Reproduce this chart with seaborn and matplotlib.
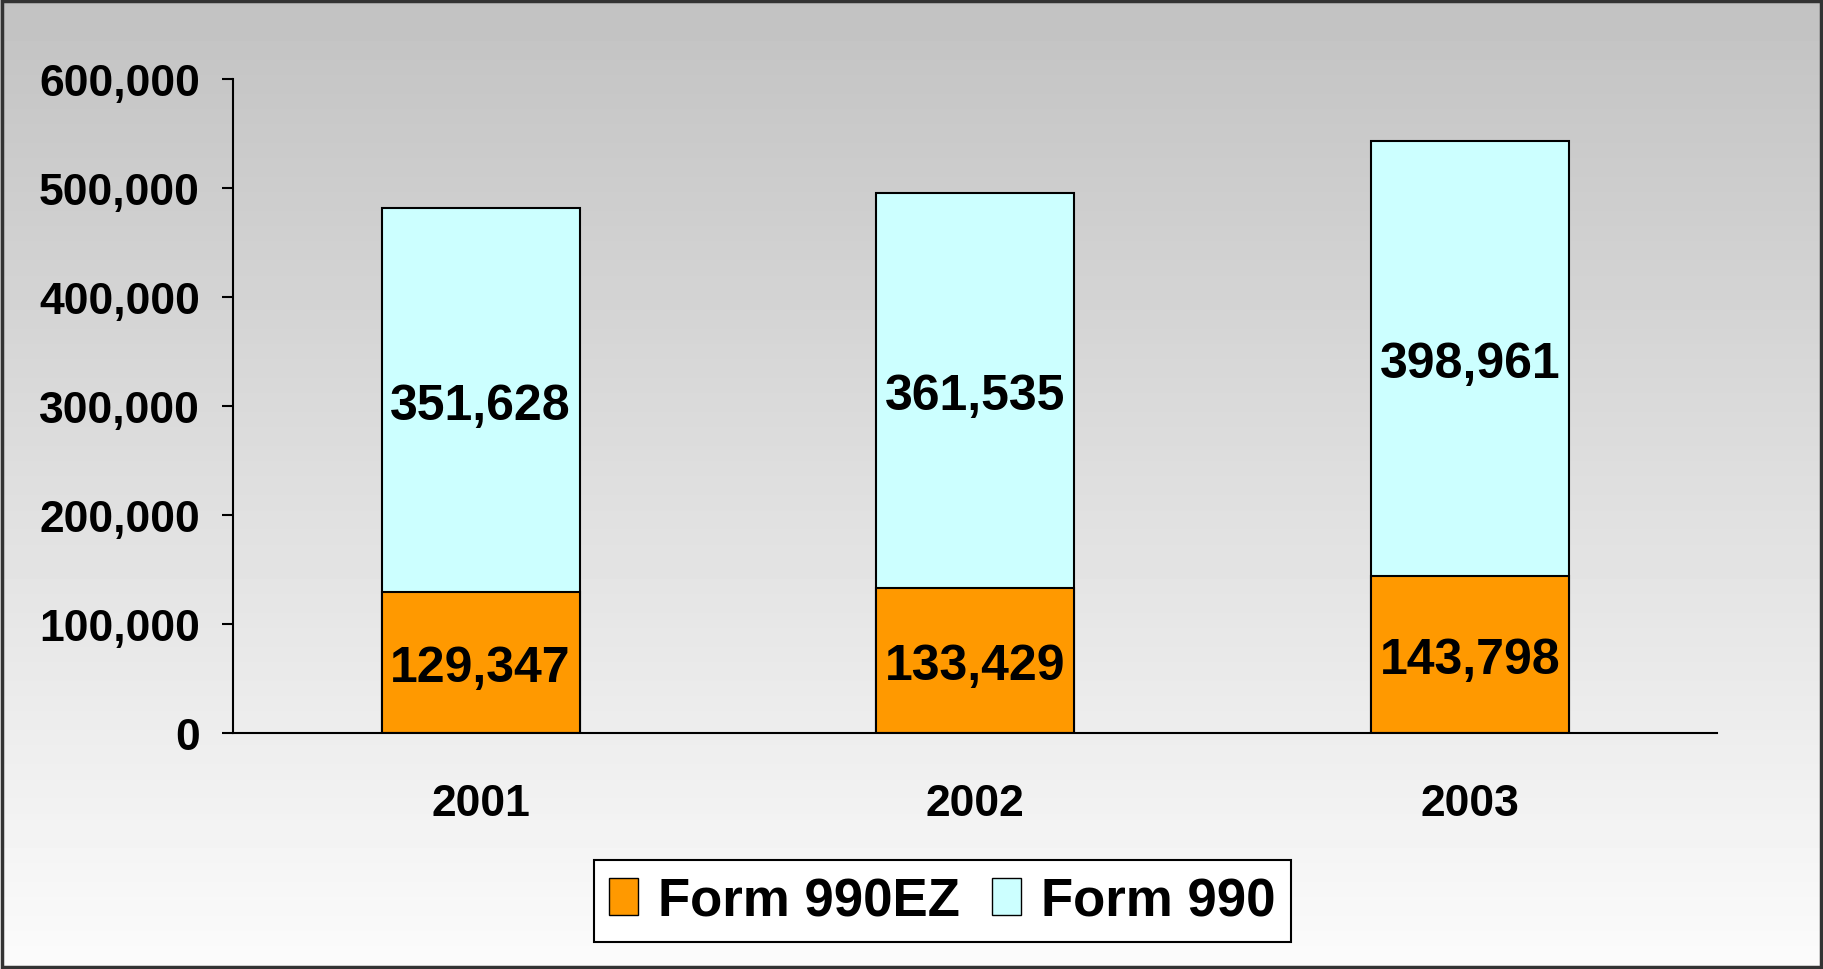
import numpy as np
import pandas as pd
import seaborn as sns
import matplotlib.pyplot as plt
from matplotlib.patches import Patch, Rectangle
from matplotlib.ticker import FuncFormatter

years = ["2001", "2002", "2003"]
form_990ez = [129347, 133429, 143798]
form_990 = [351628, 361535, 398961]
y_ticks = [0, 100000, 200000, 300000, 400000, 500000, 600000]

ORANGE = "#FF9900"
CYAN = "#CCFFFF"


def make_chart():
    df = pd.DataFrame({"year": years, "ez": form_990ez, "full": form_990})
    df["total"] = df["ez"] + df["full"]

    sns.set_style("white")
    plt.rcParams["font.family"] = ["Liberation Sans", "DejaVu Sans"]
    plt.rcParams["font.weight"] = "bold"
    plt.rcParams["text.color"] = "black"

    fig = plt.figure(figsize=(18.23, 9.70), dpi=100)

    # gray-to-white background gradient
    bg = fig.add_axes([0, 0, 1, 1], zorder=-10)
    grad = np.linspace(0.76, 0.985, 256).reshape(-1, 1)
    bg.imshow(grad, cmap="gray", vmin=0, vmax=1, aspect="auto",
              extent=[0, 1, 0, 1], origin="upper")
    bg.set_axis_off()
    fig.patches.append(Rectangle((0.001, 0.002), 0.998, 0.996, transform=fig.transFigure,
                                 fill=False, edgecolor="#333333", linewidth=2.5))

    ax = fig.add_axes([0.128, 0.243, 0.814, 0.675])
    ax.set_facecolor("none")

    # stacked bars: draw totals (Form 990 on top) then Form 990EZ over them
    sns.barplot(data=df, x="year", y="total", color=CYAN, width=0.4,
                edgecolor="black", linewidth=1.5, saturation=1, ax=ax)
    sns.barplot(data=df, x="year", y="ez", color=ORANGE, width=0.4,
                edgecolor="black", linewidth=1.5, saturation=1, ax=ax)

    for i, row in df.iterrows():
        ax.annotate(f"{row['ez']:,}", (i, row["ez"] / 2), xytext=(0, -4),
                    textcoords="offset points", ha="center", va="center",
                    fontsize=36, fontweight="bold", color="black")
        ax.annotate(f"{row['full']:,}", (i, row["ez"] + row["full"] / 2), xytext=(0, -4),
                    textcoords="offset points", ha="center", va="center",
                    fontsize=36, fontweight="bold", color="black")

    ax.set_ylim(0, 600000)
    ax.set_xlim(-0.5, 2.5)
    ax.set_yticks(y_ticks)
    ax.yaxis.set_major_formatter(FuncFormatter(lambda v, p: f"{int(v):,}"))
    ax.set_xticks([-0.5, 0.5, 1.5, 2.5], minor=True)
    ax.tick_params(axis="x", which="major", length=0, pad=36, labelsize=32,
                   labelcolor="black")
    ax.tick_params(axis="x", which="minor", length=8, width=1.5, direction="out", color="black")
    ax.tick_params(axis="y", length=8, width=1.5, direction="out", color="black",
                   pad=16, labelsize=32, left=True, labelcolor="black")
    for lbl in ax.get_xticklabels() + ax.get_yticklabels():
        lbl.set_fontweight("bold")
    ax.set_xlabel("")
    ax.set_ylabel("")

    for side in ["top", "right"]:
        ax.spines[side].set_visible(False)
    for side in ["left", "bottom"]:
        ax.spines[side].set_color("black")
        ax.spines[side].set_linewidth(1.5)

    handles = [Patch(facecolor=ORANGE, edgecolor="black", label="Form 990EZ"),
               Patch(facecolor=CYAN, edgecolor="black", label="Form 990")]
    leg = fig.legend(handles=handles, loc="center", bbox_to_anchor=(0.517, 0.07), ncol=2,
                     fancybox=False, framealpha=1, edgecolor="black",
                     prop={"size": 38, "weight": "bold"},
                     handlelength=0.55, handleheight=0.7, handletextpad=0.38,
                     columnspacing=0.6, borderpad=0.3)
    leg.get_frame().set_linewidth(1.5)

    fig.savefig("out.png", dpi=100)


if __name__ == "__main__":
    make_chart()
